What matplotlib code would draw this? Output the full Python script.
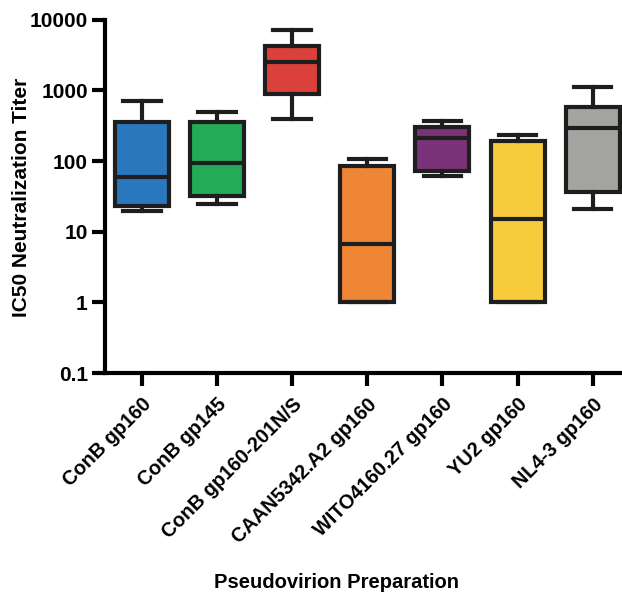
import matplotlib
matplotlib.use("Agg")
from matplotlib import pyplot as plt

plt.rcParams['font.family'] = ['Liberation Sans', 'DejaVu Sans']
plt.rcParams['font.weight'] = 'bold'

labels = ["ConB gp160", "ConB gp145", "ConB gp160-201N/S", "CAAN5342.A2 gp160",
          "WITO4160.27 gp160", "YU2 gp160", "NL4-3 gp160"]
whislo = [20, 25, 400, 1, 62, 1, 21]
q1 = [23, 32, 890, 1, 73, 1, 37]
med = [60, 93, 2550, 6.8, 210, 15, 295]
q3 = [360, 360, 4200, 86, 300, 192, 580]
whishi = [710, 500, 7200, 106, 373, 234, 1110]
colors = ["#2a77bd", "#23ab55", "#d9413a", "#ef8636", "#7a3278", "#f7cb3b", "#a3a3a0"]

stats = []
for i in range(len(labels)):
    stats.append(dict(label=labels[i], whislo=whislo[i], q1=q1[i], med=med[i],
                      q3=q3[i], whishi=whishi[i], fliers=[]))

fig = plt.figure(figsize=(6.22, 5.98), dpi=100)
ax = fig.add_axes([0.169, 0.376, 0.831, 0.591])

lw = 3
bp = ax.bxp(stats, positions=range(1, 8), widths=0.72, patch_artist=True,
            showfliers=False,
            boxprops=dict(linewidth=lw, edgecolor="#1e1e1e"),
            medianprops=dict(linewidth=lw, color="#1e1e1e"),
            whiskerprops=dict(linewidth=lw, color="#1e1e1e"),
            capprops=dict(linewidth=lw, color="#1e1e1e"),
            capwidths=0.5)
for patch, c in zip(bp['boxes'], colors):
    patch.set_facecolor(c)

ax.set_yscale('log')
ax.set_ylim(0.1, 10000)
ax.set_xlim(0.51, 7.39)
ax.set_yticks([0.1, 1, 10, 100, 1000, 10000])
ax.set_yticklabels(["0.1", "1", "10", "100", "1000", "10000"])
ax.minorticks_off()

for s in ['top', 'right']:
    ax.spines[s].set_visible(False)
for s in ['left', 'bottom']:
    ax.spines[s].set_linewidth(3)
ax.tick_params(axis='both', width=3, length=9.5, direction='out')
ax.tick_params(axis='y', labelsize=15, pad=3)
ax.set_xticks(range(1, 8))
ax.set_xticklabels(labels, rotation=45, ha='right', rotation_mode='anchor',
                   fontweight='bold', fontsize=14.3)
ax.tick_params(axis='x', pad=6)

# axis titles placed at fixed spots like the original
fig.text(0.034, 0.670, "IC50 Neutralization Titer", fontsize=15, fontweight='bold',
         rotation=90, ha='center', va='center')
fig.text(0.541, 1 - 582 / 598, "Pseudovirion Preparation", fontsize=14.5,
         fontweight='bold', ha='center', va='center')

fig.savefig("out.png", dpi=100)
